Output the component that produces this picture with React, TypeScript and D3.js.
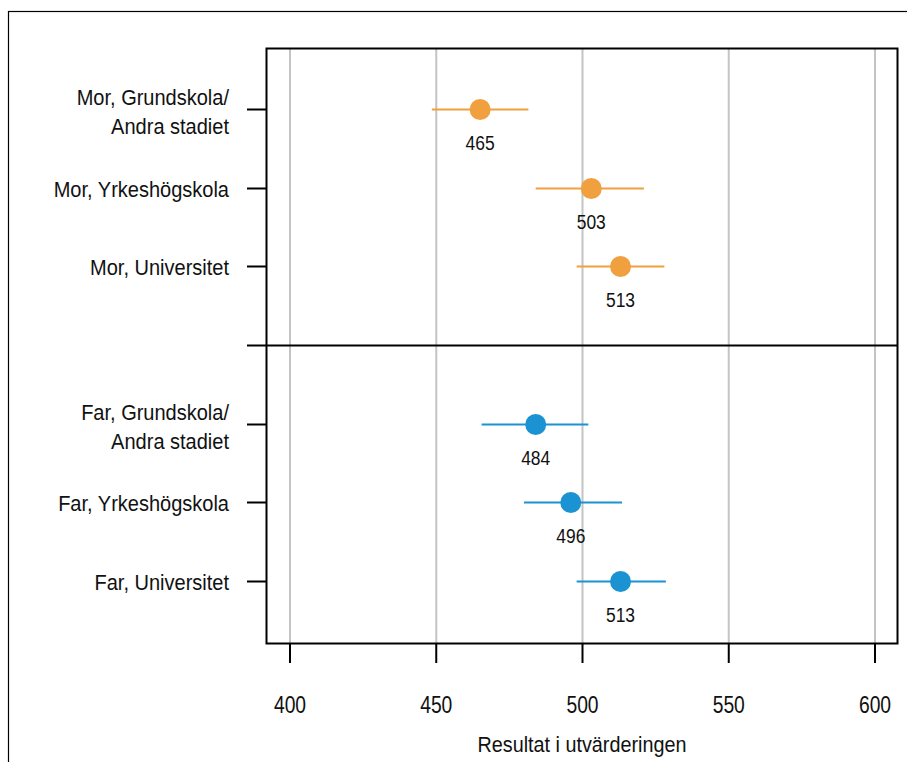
import React from "react";
import * as d3 from "d3";

const categories = [
  "Mor, Grundskola/\nAndra stadiet",
  "Mor, Yrkeshögskola",
  "Mor, Universitet",
  "Far, Grundskola/\nAndra stadiet",
  "Far, Yrkeshögskola",
  "Far, Universitet",
];
const slots = [0, 1, 2, 4, 5, 6];
const groups = ["Mor", "Mor", "Mor", "Far", "Far", "Far"];
const means = [465, 503, 513, 484, 496, 513];
const lower = [448.5, 484, 498, 465.5, 480, 498];
const upper = [481.5, 521, 528, 502, 513.5, 528.5];
const xTicks = [400, 450, 500, 550, 600];
const colors: Record<string, string> = { Mor: "#F0A03F", Far: "#1B93D3" };

const W = 907;
const H = 762;
const panel = { left: 266.5, right: 897.5, top: 48.5, bottom: 643.5 };

function T(props: {
  x: number;
  y: number;
  s: number;
  size: number;
  anchor: "start" | "middle" | "end";
  children: React.ReactNode;
}) {
  return (
    <text
      transform={`translate(${props.x},${props.y}) scale(${props.s},1)`}
      textAnchor={props.anchor}
      fontSize={props.size}
      fill="#111"
    >
      {props.children}
    </text>
  );
}

export default function App() {
  const x = d3.scaleLinear().domain([400, 600]).range([290, 875]);
  const y = d3.scaleLinear().domain([0, 6]).range([109, 581]);
  const font = "'Liberation Sans', Arial, sans-serif";
  const divY = Math.round(y(3)) + 0.5;
  return (
    <svg
      width={W}
      height={H}
      style={{ position: "absolute", left: 0, top: 0, background: "#fff" }}
      fontFamily={font}
    >
      <rect x={8.5} y={11.5} width={2000} height={2000} fill="#fff" stroke="#000" strokeWidth={1.2} />
      {xTicks.map((t) => (
        <line key={"g" + t} x1={x(t)} x2={x(t)} y1={panel.top} y2={panel.bottom} stroke="#c4c4c4" strokeWidth={2} />
      ))}
      <rect
        x={panel.left}
        y={panel.top}
        width={panel.right - panel.left}
        height={panel.bottom - panel.top}
        fill="none"
        stroke="#000"
        strokeWidth={2}
      />
      <line x1={247} x2={panel.right} y1={divY} y2={divY} stroke="#000" strokeWidth={2} />
      {xTicks.map((t) => (
        <g key={"t" + t}>
          <line x1={x(t)} x2={x(t)} y1={panel.bottom} y2={663} stroke="#000" strokeWidth={2} />
          <T x={x(t)} y={713} s={0.84} size={23} anchor="middle">
            {t}
          </T>
        </g>
      ))}
      <T x={582} y={752} s={0.9} size={22} anchor="middle">
        Resultat i utvärderingen
      </T>
      {categories.map((c, i) => {
        const yy = Math.round(y(slots[i])) + 0.5;
        const lines = c.split("\n");
        const col = colors[groups[i]];
        return (
          <g key={c}>
            <line x1={247} x2={panel.left} y1={yy} y2={yy} stroke="#000" strokeWidth={2} />
            {lines.length === 1 ? (
              <T x={229} y={yy + 8} s={0.91} size={22} anchor="end">
                {lines[0]}
              </T>
            ) : (
              lines.map((l, k) => (
                <T key={k} x={229} y={yy - 4.5 + k * 29} s={0.91} size={22} anchor="end">
                  {l}
                </T>
              ))
            )}
            <line x1={x(lower[i])} x2={x(upper[i])} y1={yy} y2={yy} stroke={col} strokeWidth={2} />
            <circle cx={x(means[i])} cy={yy} r={10.5} fill={col} />
            <T x={x(means[i])} y={yy + 40.5} s={0.83} size={21} anchor="middle">
              {means[i]}
            </T>
          </g>
        );
      })}
    </svg>
  );
}
